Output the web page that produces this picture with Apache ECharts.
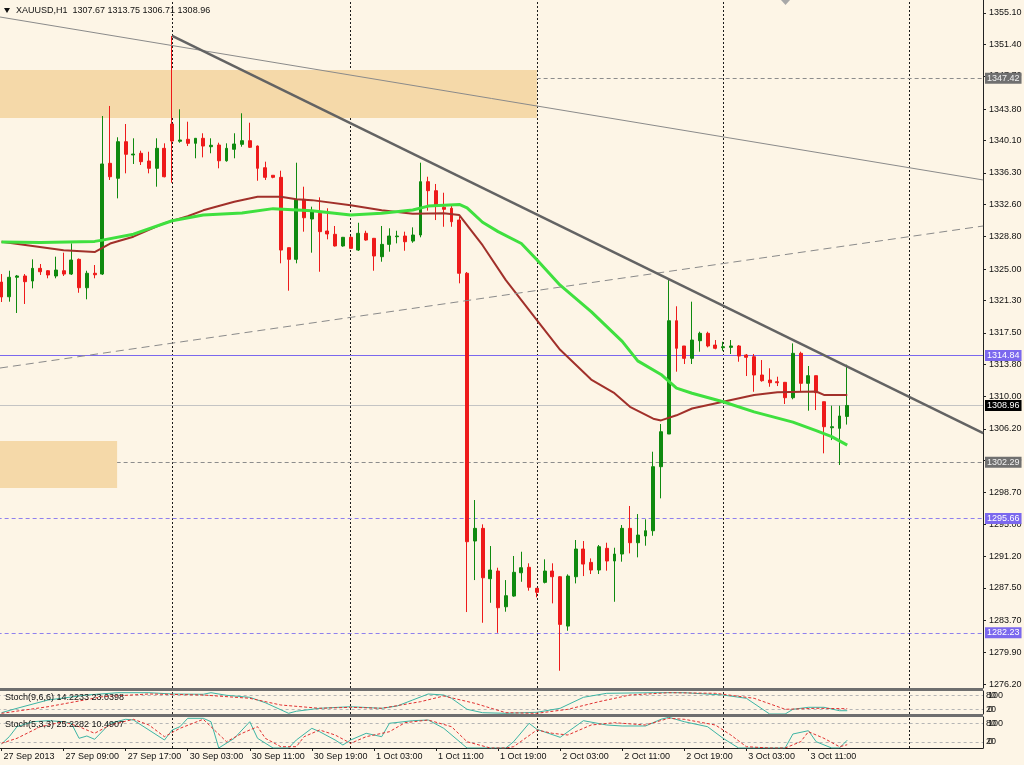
<!DOCTYPE html>
<html><head><meta charset="utf-8">
<script src="https://cdn.jsdelivr.net/npm/echarts@6/dist/echarts.min.js"></script>
<style>html,body{margin:0;padding:0;background:#fdf5e6}#c{width:1024px;height:765px}</style>
</head><body><div id="c"></div><script>
// ---------- DATA ----------
const sessions = [['27 Sep',1,22],['30 Sep',1,23],['1 Oct',0,23],['2 Oct',0,23],['3 Oct',0,23],['4 Oct',0,9]];
const categories = [];
sessions.forEach(s => { for (let h = s[1]; h <= s[2]; h++) categories.push(s[0] + ' ' + String(h).padStart(2,'0') + ':00'); });

const xTickIdx  = [0,8,16,24,32,40,48,56,64,72,80,88,96,104];
const xTickText = ['27 Sep 2013','27 Sep 09:00','27 Sep 17:00','30 Sep 03:00','30 Sep 11:00','30 Sep 19:00','1 Oct 03:00','1 Oct 11:00','1 Oct 19:00','2 Oct 03:00','2 Oct 11:00','2 Oct 19:00','3 Oct 03:00','3 Oct 11:00'];
const daySeparators = [22,45,69,93,117];
const priceTicks = [1355.10,1351.40,1347.70,1343.80,1340.10,1336.30,1332.60,1328.80,1325.00,1321.30,1317.50,1313.80,1310.00,1306.20,1302.50,1298.70,1295.00,1291.20,1287.50,1283.70,1279.90,1276.20];

const open = [1323.47,1321.74,1324.03,1324.18,1323.59,1325.08,1324.80,1324.18,1324.80,1324.41,1326.14,1322.80,1324.50,1324.41,1337.43,1335.67,1339.97,1338.41,1338.61,1337.70,
1336.84,1339.19,1342.05,1340.02,1340.25,1339.78,1340.37,1339.38,1339.58,1337.73,1339.08,1339.66,1340.09,1339.46,1336.91,1336.02,1335.78,1327.51,1326.14,1333.20,
1330.88,1331.55,1329.47,1329.08,1327.71,1328.73,1327.23,1329.20,1328.61,1326.45,1327.90,1328.80,1328.88,1328.29,1329.00,1335.27,1334.21,1332.26,1332.14,1330.76,
1324.50,1293.02,1294.51,1288.59,1289.49,1285.29,1286.55,1289.29,1289.93,1287.46,1288.16,1289.49,1288.82,1283.02,1288.82,1292.08,1290.51,1289.61,1292.16,1290.67,
1291.49,1294.51,1292.82,1293.61,1294.23,1301.76,1305.60,1318.92,1315.95,1314.50,1316.57,1317.44,1316.06,1315.75,1315.79,1315.95,1314.89,1314.69,1312.54,1311.95,
1311.75,1311.68,1309.87,1315.09,1311.56,1312.46,1309.40,1306.34,1306.27,1307.67];
const high = [1324.41,1324.80,1324.30,1324.41,1326.14,1325.59,1324.88,1326.45,1326.92,1328.02,1326.24,1324.80,1325.47,1342.99,1344.17,1340.49,1342.05,1340.37,1338.91,1338.79,
1340.37,1339.78,1352.40,1343.78,1342.32,1340.40,1340.96,1340.37,1339.85,1339.78,1340.96,1343.31,1342.20,1339.52,1337.62,1336.02,1336.56,1327.51,1337.50,1334.68,
1332.33,1333.43,1332.14,1330.06,1328.77,1328.88,1330.44,1329.50,1328.65,1330.06,1329.79,1329.50,1329.39,1329.90,1337.50,1335.85,1335.00,1333.97,1332.53,1331.15,
1324.65,1297.84,1294.98,1292.43,1289.88,1288.43,1291.26,1291.76,1290.40,1287.50,1290.87,1290.40,1288.90,1289.10,1293.14,1293.02,1290.98,1292.55,1292.82,1292.23,
1294.90,1297.14,1296.19,1295.57,1303.52,1306.78,1323.91,1320.62,1315.95,1321.16,1317.63,1317.63,1316.65,1316.45,1316.65,1316.06,1315.01,1315.01,1314.30,1313.33,
1312.34,1311.72,1316.26,1315.28,1313.60,1312.46,1309.40,1308.93,1308.93,1313.75];
const low = [1321.12,1321.16,1319.83,1320.89,1322.73,1324.30,1323.91,1323.91,1324.18,1324.30,1322.21,1321.44,1323.91,1324.30,1335.47,1333.31,1336.25,1337.35,1337.23,1336.25,
1334.68,1335.78,1335.15,1339.85,1339.46,1338.02,1338.13,1338.61,1336.84,1337.62,1338.02,1339.38,1339.23,1335.38,1335.47,1335.67,1325.67,1322.45,1325.67,1329.39,
1326.92,1324.68,1328.49,1327.65,1327.62,1327.40,1327.12,1328.33,1324.80,1325.86,1327.04,1328.02,1327.15,1328.09,1328.73,1331.86,1330.76,1329.97,1329.97,1323.32,
1284.67,1288.43,1283.41,1285.76,1282.23,1284.71,1286.47,1288.23,1287.18,1286.40,1288.04,1285.69,1277.77,1282.47,1288.04,1288.90,1289.14,1289.14,1289.53,1285.88,
1290.59,1291.57,1291.10,1292.47,1293.64,1298.04,1305.60,1312.93,1313.83,1313.83,1315.28,1315.79,1315.56,1315.39,1315.01,1314.10,1312.42,1310.57,1311.75,1311.16,
1311.24,1309.13,1309.68,1310.57,1308.34,1308.42,1303.33,1304.89,1301.96,1306.71];
const close = [1321.71,1324.03,1324.18,1323.51,1325.08,1324.68,1324.30,1324.88,1324.41,1326.06,1322.80,1324.50,1324.33,1337.35,1335.85,1339.97,1338.49,1338.52,1337.62,1336.84,
1339.19,1335.85,1340.05,1340.17,1339.78,1340.37,1339.46,1339.55,1337.73,1339.19,1339.70,1340.09,1339.31,1336.84,1335.78,1335.78,1327.23,1326.14,1333.11,1331.03,
1331.74,1329.39,1329.12,1327.71,1328.73,1327.43,1329.20,1328.41,1326.53,1327.90,1328.88,1328.88,1328.21,1329.00,1335.27,1334.21,1332.41,1332.02,1330.56,1324.50,
1292.94,1294.51,1288.70,1289.61,1285.18,1286.59,1289.34,1289.88,1287.58,1286.99,1289.49,1288.82,1283.22,1288.90,1292.08,1290.31,1289.61,1292.35,1290.67,1291.49,
1294.51,1292.82,1293.72,1294.23,1301.76,1305.87,1318.92,1315.68,1314.50,1316.65,1317.44,1315.95,1315.68,1315.86,1315.95,1314.77,1314.62,1312.54,1311.87,1311.63,
1311.63,1309.87,1315.09,1311.56,1312.46,1310.46,1306.46,1306.46,1307.72,1308.96];

// moving averages: [bar index, price]
const maGreen = [[0,1328.18],[5,1328.12],[12,1328.25],[13,1328.4],[17,1329.1],[22,1330.68],[26,1331.35],[31,1331.6],[35,1332.1],[40,1331.85],[45,1331.35],[49,1331.55],[53,1331.94],[55,1332.4],[59,1332.6],[60,1332.2],[62,1330.5],[64,1329.4],[67,1328.0],[69,1326.1],[72,1323.1],[76,1320.0],[80,1316.5],[82,1314.2],[85,1312.6],[87,1311.0],[89,1310.4],[93,1309.4],[97,1308.2],[102,1307.0],[105,1306.0],[107,1305.3],[109,1304.3]];
const maBrown = [[0,1328.2],[4,1327.7],[8,1327.2],[12,1327.0],[14,1328.0],[17,1328.8],[21,1330.4],[24,1331.2],[26,1331.9],[30,1332.9],[33,1333.5],[36,1333.5],[38,1333.2],[40,1333.1],[45,1332.5],[49,1331.9],[53,1331.5],[57,1331.55],[59,1331.35],[62,1327.8],[65,1323.7],[69,1319.0],[72,1315.5],[76,1312.0],[79,1310.4],[81,1308.8],[84,1307.4],[85,1307.2],[87,1307.8],[89,1308.6],[93,1309.4],[97,1310.2],[100,1310.5],[105,1310.6],[106,1310.2],[109,1310.2]];

// drawn trend lines: [bar index, price]
const trendThin   = [[-0.19,1354.63],[126.52,1335.47]];
const trendThick  = [[22,1352.40],[126.52,1305.70]];
const trendDashed = [[-0.19,1313.36],[126.52,1330.06]];

// horizontal levels
const levelGrayDashed   = [1347.42, 1302.29];
const levelVioletSolid  = [1314.84];
const levelVioletDashed = [1295.66, 1282.23];
const bidPrice = 1308.96;

// zones [fromIndex, toIndex, top, bottom]
const zones = [[-0.5, 69, 1348.40, 1342.76], [-0.5, 14.9, 1304.78, 1299.25]];

// stochastics: [bar index, value]
const stoch966Main = [[0,5.7],[2,24.8],[6,60.9],[11,82.6],[15,92.6],[19,92.6],[22,87.0],[26,85.7],[27,92.6],[29,81.3],[32,72.6],[34,49.1],[37,3.0],[38,12.0],[41,24.8],[45,31.7],[49,24.8],[51,34.8],[53,60.9],[55,87.0],[57,82.6],[58,68.3],[60,20.4],[62,5.7],[65,3.0],[69,7.4],[72,24.8],[75,72.6],[78,90.0],[84,92.6],[88,92.6],[93,82.6],[96,68.3],[99,0],[101,0],[102,20.4],[104,29.1],[106,29.1],[108,14.3],[109,14.2233]];
const stoch966Sig  = [[0,3.0],[6,31.7],[13,75.2],[19,87.0],[26,82.6],[32,68.3],[36,39.1],[41,24.8],[45,29.1],[49,24.8],[54,53.5],[57,78.3],[61,46.5],[65,5.7],[69,3.0],[73,20.4],[77,53.5],[81,82.6],[86,92.6],[92,90.0],[97,68.3],[101,20.4],[105,24.8],[109,23.0398]];
const stoch533Main = [[0,12.9],[1,36.5],[2,68.7],[4,84.8],[6,88.1],[8,84.8],[9,79.7],[10,31.3],[11,38.7],[12,28.1],[14,79.7],[16,92.6],[17,90.3],[19,58.1],[21,25.8],[22,58.1],[23,68.7],[24,95.8],[26,95.8],[27,84.8],[28,0],[30,31.3],[32,84.8],[33,31.3],[35,0],[37,0],[38,25.8],[40,63.5],[41,52.6],[43,25.8],[44,9.7],[45,25.8],[47,47.4],[49,36.5],[50,79.7],[53,88.1],[55,90.3],[57,63.5],[60,0],[62,0],[65,0],[66,20.3],[68,79.7],[69,60.3],[72,34.5],[75,88.1],[78,74.2],[80,71.0],[83,71.0],[85,92.6],[86,99.0],[88,84.8],[91,68.7],[93,31.3],[95,0],[98,0],[101,0],[102,45.2],[104,55.8],[105,20.3],[107,0],[108,0],[109,25.2282]];
const stoch533Sig  = [[0,15.2],[2,31.3],[5,68.7],[8,84.8],[10,68.7],[12,47.4],[14,74.2],[17,92.6],[19,74.2],[21,36.5],[23,63.5],[26,92.6],[27,68.7],[29,20.3],[31,47.4],[33,68.7],[34,31.3],[36,4.2],[38,4.2],[39,36.5],[41,58.1],[43,41.9],[45,15.2],[47,36.5],[50,52.6],[52,81.6],[55,90.3],[58,68.7],[60,20.3],[63,0],[65,0],[66,4.2],[69,58.1],[71,47.4],[73,41.9],[76,74.2],[79,81.6],[83,74.2],[86,95.8],[88,92.6],[92,74.2],[94,41.9],[96,4.2],[99,0],[101,0],[103,20.3],[104,52.6],[106,31.3],[108,4.2],[109,10.4907]];
const stochLevels = [20, 80];

// ---------- CHART ----------
const FONT = "'Liberation Sans', Arial, sans-serif";
const FS = 9;
const last = open.length - 1;
const ohlc = open.map((o,i) => [o, close[i], low[i], high[i]]);
const f2 = v => v.toFixed(2);
const f4 = v => v.toFixed(4);

const GL = -2.375, GW = 985.375;
const chart = echarts.init(document.getElementById('c'));

function sepLines() {
  return daySeparators.map(d => ({ xAxis: d, lineStyle: { color: '#1a1a1a', type: [2,2], width: 1 } }));
}
function levelMark(v, lineColor, lineType, boxColor, textColor) {
  return { yAxis: v, lineStyle: { color: lineColor, type: lineType, width: 1 },
    label: { show: true, position: 'end', distance: 2, formatter: () => f2(v), color: textColor,
      backgroundColor: boxColor, padding: [1,2,0,2], fontSize: FS, fontFamily: FONT, lineHeight: 10 } };
}
const valX = gi => ({ type: 'value', gridIndex: gi, min: -0.5, max: 126.5, show: false, axisLine: { onZero: false } });
const stochY = gi => ({ type: 'value', gridIndex: gi, min: 0, max: 100, position: 'right',
  axisLine: { show: true, onZero: false, lineStyle: { color: '#222' } }, axisTick: { show: false }, splitLine: { show: false },
  axisLabel: { customValues: stochLevels, margin: 3, fontSize: FS, fontFamily: FONT, color: '#111' } });
const stochY2 = gi => ({ type: 'value', gridIndex: gi, min: 0, max: 100, position: 'right',
  axisLine: { show: false, onZero: false }, axisTick: { show: false }, splitLine: { show: false },
  axisLabel: { customValues: stochLevels, margin: 5, fontSize: FS, fontFamily: FONT, color: '#111',
    formatter: v => (v === 80 ? '100' : '0') } });

const option = {
  animation: false,
  backgroundColor: '#fdf5e6',
  grid: [
    { left: GL, top: 0, width: GW, height: 688, outerBoundsMode: 'none' },
    { left: GL, top: 691, width: GW, height: 23, outerBoundsMode: 'none' },
    { left: GL, top: 717, width: GW, height: 31, outerBoundsMode: 'none' }
  ],
  xAxis: [
    { type: 'category', gridIndex: 0, data: categories, boundaryGap: true, show: false, axisLine: { onZero: false } },
    valX(0), valX(1),
    { type: 'value', gridIndex: 2, min: -0.5, max: 126.5, position: 'bottom',
      axisLine: { show: true, onZero: false, lineStyle: { color: '#222' } },
      axisTick: { show: true, customValues: xTickIdx, length: 3, lineStyle: { color: '#222' } },
      splitLine: { show: false },
      axisLabel: { customValues: xTickIdx, align: 'left', margin: 4, padding: [0,0,0,2], fontSize: FS, fontFamily: FONT, color: '#111',
        formatter: v => xTickText[xTickIdx.indexOf(Math.round(v))] } }
  ],
  yAxis: [
    { type: 'value', gridIndex: 0, position: 'right', min: 1275.74, max: 1356.63,
      axisLine: { show: true, onZero: false, lineStyle: { color: '#222' } },
      axisTick: { show: true, customValues: priceTicks, length: 3, lineStyle: { color: '#222' } },
      splitLine: { show: false },
      axisLabel: { customValues: priceTicks, formatter: f2, margin: 6, fontSize: FS, fontFamily: FONT, color: '#111' } },
    stochY(1), stochY(2), stochY2(1), stochY2(2)
  ],
  series: [
    { type: 'line', xAxisIndex: 1, yAxisIndex: 0, data: [], silent: true,
      markLine: { z: 0.5, silent: true, symbol: ['none','none'], label: { show: false }, data: sepLines() } },
    { type: 'line', xAxisIndex: 1, yAxisIndex: 0, data: [], silent: true,
      markLine: { z: 0.8, silent: true, symbol: ['none','none'], data: [
        ...levelGrayDashed.map(v => levelMark(v, '#8c8c8c', [4,3], '#707070', '#f0f0f0')),
        ...levelVioletSolid.map(v => levelMark(v, '#7b68ee', 'solid', '#7b68ee', '#ffffff')),
        ...levelVioletDashed.map(v => levelMark(v, '#8f80ee', [4,3], '#7b68ee', '#ffffff')),
        levelMark(bidPrice, '#c4c4c4', 'solid', '#000000', '#ffffff')
      ] } },
    { type: 'line', xAxisIndex: 1, yAxisIndex: 0, data: [], silent: true,
      markArea: { z: 1, silent: true, itemStyle: { color: '#f5d9a9' },
        data: zones.map(z => [{ xAxis: z[0], yAxis: z[2] }, { xAxis: z[1], yAxis: z[3] }]) } },
    { type: 'candlestick', xAxisIndex: 0, yAxisIndex: 0, z: 2, barWidth: 3.4, data: ohlc,
      itemStyle: { color: '#0f8a0f', color0: '#ee1a1a', borderColor: '#0f8a0f', borderColor0: '#ee1a1a', borderWidth: 1 } },
    { type: 'line', xAxisIndex: 1, yAxisIndex: 0, z: 3, data: maBrown, showSymbol: false, symbol: 'none',
      lineStyle: { color: '#a1302a', width: 2 } },
    { type: 'line', xAxisIndex: 1, yAxisIndex: 0, z: 3, data: maGreen, showSymbol: false, symbol: 'none',
      lineStyle: { color: '#3fe03f', width: 3 } },
    { type: 'line', xAxisIndex: 1, yAxisIndex: 0, z: 4, data: trendThin, showSymbol: false, symbol: 'none',
      lineStyle: { color: '#8a8a8a', width: 1 } },
    { type: 'line', xAxisIndex: 1, yAxisIndex: 0, z: 4, data: trendDashed, showSymbol: false, symbol: 'none',
      lineStyle: { color: '#8a8a8a', width: 1, type: [8,5] } },
    { type: 'line', xAxisIndex: 1, yAxisIndex: 0, z: 4, data: trendThick, showSymbol: false, symbol: 'none',
      lineStyle: { color: '#636363', width: 2.5 } },
    // Stoch(9,6,6)
    { type: 'line', xAxisIndex: 2, yAxisIndex: 1, data: stoch966Main, showSymbol: false, symbol: 'none', z: 3,
      lineStyle: { color: '#3cb4a4', width: 1 },
      markLine: { z: 0.5, silent: true, symbol: ['none','none'], label: { show: false },
        data: [...sepLines(), ...stochLevels.map(v => ({ yAxis: v, lineStyle: { color: '#b5b5b5', type: [3,3], width: 1 } }))] } },
    { type: 'line', xAxisIndex: 2, yAxisIndex: 1, data: stoch966Sig, showSymbol: false, symbol: 'none', z: 3,
      lineStyle: { color: '#e03030', width: 1, type: [3,2] } },
    // Stoch(5,3,3)
    { type: 'line', xAxisIndex: 3, yAxisIndex: 2, data: stoch533Main, showSymbol: false, symbol: 'none', z: 3,
      lineStyle: { color: '#3cb4a4', width: 1 },
      markLine: { z: 0.5, silent: true, symbol: ['none','none'], label: { show: false },
        data: [...sepLines(), ...stochLevels.map(v => ({ yAxis: v, lineStyle: { color: '#b5b5b5', type: [3,3], width: 1 } }))] } },
    { type: 'line', xAxisIndex: 3, yAxisIndex: 2, data: stoch533Sig, showSymbol: false, symbol: 'none', z: 3,
      lineStyle: { color: '#e03030', width: 1, type: [3,2] } }
  ],
  graphic: [
    { type: 'rect', shape: { x: 0, y: 688, width: 983, height: 3 }, style: { fill: '#6e6e6e' }, z: 10 },
    { type: 'rect', shape: { x: 0, y: 714, width: 983, height: 3 }, style: { fill: '#6e6e6e' }, z: 10 },
    { type: 'polygon', shape: { points: [[781,0],[790,0],[785.5,5]] }, style: { fill: '#a8a8a8' }, z: 10 },
    { type: 'polygon', shape: { points: [[4,8],[10,8],[7,13]] }, style: { fill: '#111' }, z: 10 },
    { type: 'text', x: 16, y: 11, z: 10, style: { text: 'XAUUSD,H1  ' + [open[last], high[last], low[last], close[last]].map(f2).join(' '),
      fontSize: FS, fontFamily: FONT, fill: '#111', verticalAlign: 'middle' } },
    { type: 'text', x: 5, y: 698, z: 10, style: { text: 'Stoch(9,6,6) ' + f4(stoch966Main[stoch966Main.length-1][1]) + ' ' + f4(stoch966Sig[stoch966Sig.length-1][1]),
      fontSize: FS, fontFamily: FONT, fill: '#111', verticalAlign: 'middle' } },
    { type: 'text', x: 5, y: 725, z: 10, style: { text: 'Stoch(5,3,3) ' + f4(stoch533Main[stoch533Main.length-1][1]) + ' ' + f4(stoch533Sig[stoch533Sig.length-1][1]),
      fontSize: FS, fontFamily: FONT, fill: '#111', verticalAlign: 'middle' } }
  ]
};
chart.setOption(option);
</script></body></html>
